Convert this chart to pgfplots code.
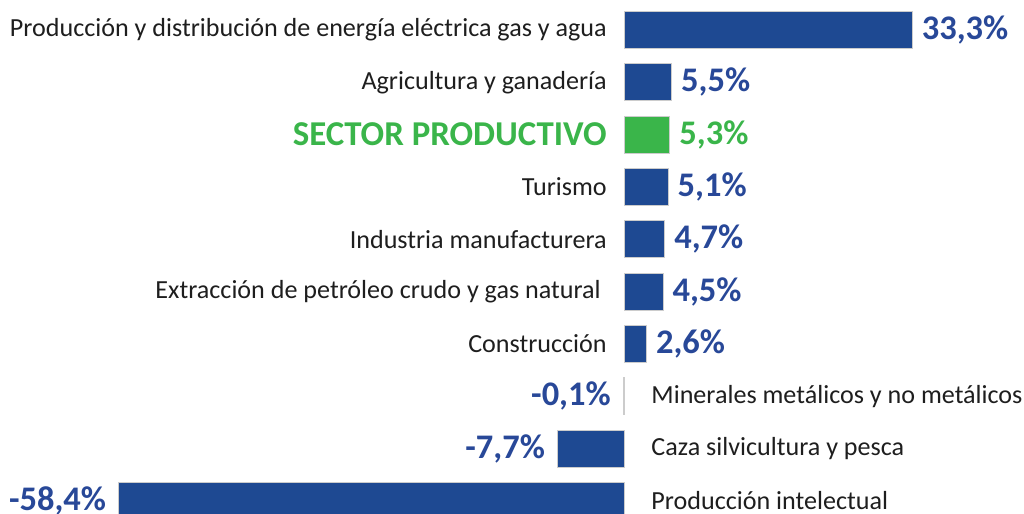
\documentclass[border=0pt]{standalone}
\usepackage{pgfplots}
\pgfplotsset{compat=1.18}
\usepackage{fontspec}
\setmainfont{Carlito}
\definecolor{barblue}{RGB}{30,73,146}
\definecolor{valblue}{RGB}{40,72,152}
\definecolor{secgreen}{RGB}{58,181,74}
\definecolor{cattext}{RGB}{30,30,30}
\begin{document}
\begin{tikzpicture}
\begin{axis}[
  scale only axis,
  width=512bp, height=257bp,
  xmin=-72.1, xmax=46.2,
  ymin=-0.249, ymax=9.574,
  hide axis,
  clip=true,
  xbar, bar width=18.5bp, bar shift=0pt,
  point meta=explicit symbolic,
  nodes near coords,
  every node near coord/.append style={font=\bfseries\fontsize{17.3}{19}\selectfont, inner sep=0pt},
]
% positive blue bars
\addplot[fill=barblue, draw=black!20, line width=0.5bp,
  nodes near coords style={anchor=west, xshift=4.5bp, text=valblue}]
  coordinates {(33.3,9) [33,3\%] (5.5,8) [5,5\%] (5.1,6) [5,1\%] (4.7,5) [4,7\%] (4.5,4) [4,5\%] (2.6,3) [2,6\%]};
% sector productivo
\addplot[fill=secgreen, draw=black!20, line width=0.5bp,
  nodes near coords style={anchor=west, xshift=4.5bp, text=secgreen}]
  coordinates {(5.3,7) [5,3\%]};
% negative bars
\addplot[fill=barblue, draw=black!20, line width=0.5bp,
  nodes near coords style={anchor=east, xshift=-6bp, text=valblue}]
  coordinates {(-0.1,2) [-0,1\%] (-7.7,1) [-7,7\%] (-58.4,0) [-58,4\%]};

\begin{scope}[every node/.style={inner sep=0pt, text=cattext, font=\fontsize{13.1}{15}\selectfont}]
\node[anchor=east, xshift=-8.5bp] at (axis cs:0,9) {Producción y distribución de energía eléctrica gas y agua};
\node[anchor=east, xshift=-8.5bp] at (axis cs:0,8) {Agricultura y ganadería};
\node[anchor=east, xshift=-8.5bp, text=secgreen, font=\bfseries\fontsize{17.5}{19}\selectfont] at (axis cs:0,7) {SECTOR PRODUCTIVO};
\node[anchor=east, xshift=-8.5bp] at (axis cs:0,6) {Turismo};
\node[anchor=east, xshift=-8.5bp] at (axis cs:0,5) {Industria manufacturera};
\node[anchor=east, xshift=-11.5bp] at (axis cs:0,4) {Extracción de petróleo crudo y gas natural};
\node[anchor=east, xshift=-8.5bp] at (axis cs:0,3) {Construcción};
\node[anchor=west, xshift=13.5bp] at (axis cs:0,2) {Minerales metálicos y no metálicos};
\node[anchor=west, xshift=13.5bp] at (axis cs:0,1) {Caza silvicultura y pesca};
\node[anchor=west, xshift=13.5bp] at (axis cs:0,0) {Producción intelectual};
\end{scope}
\end{axis}
\pgfresetboundingbox
\path (current axis.south west) rectangle (current axis.north east);
\end{tikzpicture}
\end{document}
